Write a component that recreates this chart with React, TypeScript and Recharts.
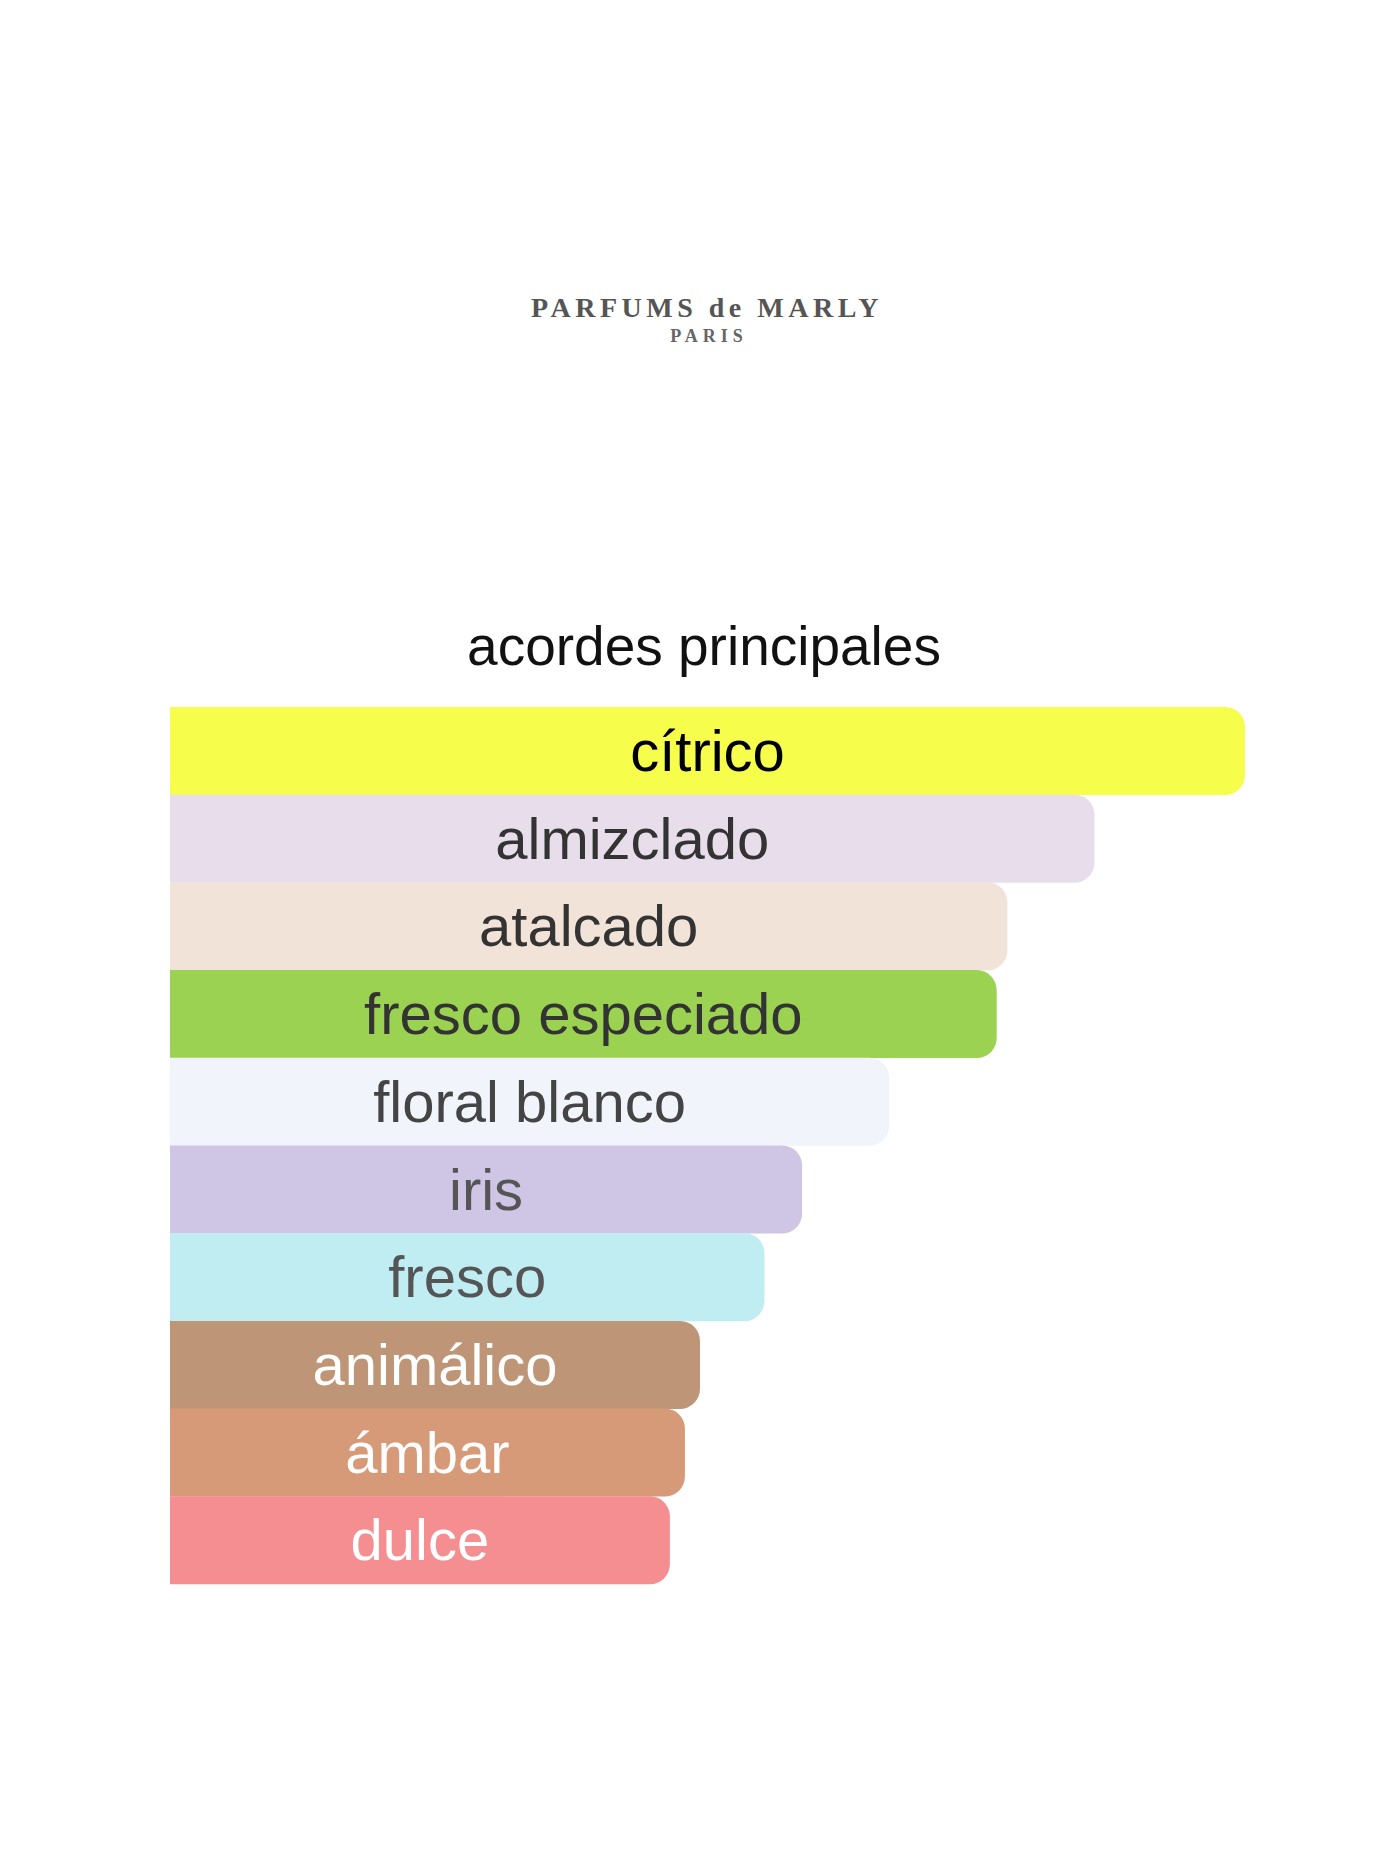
import { BarChart, Bar, XAxis, YAxis, Cell, LabelList } from "recharts";

// main accords, top to bottom
const ACCORDS = [
  "cítrico",
  "almizclado",
  "atalcado",
  "fresco especiado",
  "floral blanco",
  "iris",
  "fresco",
  "animálico",
  "ámbar",
  "dulce",
];

// relative strength (cítrico = 100)
const STRENGTH = [100, 86, 77.9, 76.9, 66.9, 58.8, 55.3, 49.3, 47.9, 46.5];

const BAR_COLORS = [
  "#f7fd4b",
  "#e8deeb",
  "#f1e3d7",
  "#9bd251",
  "#f1f4fb",
  "#cfc5e5",
  "#c0edf2",
  "#be9677",
  "#d69a78",
  "#f58e91",
];

const TEXT_COLORS = [
  "#000000",
  "#333333",
  "#333333",
  "#333333",
  "#444444",
  "#555555",
  "#555555",
  "#ffffff",
  "#ffffff",
  "#ffffff",
];

const data = ACCORDS.map((name, i) => ({ name, value: STRENGTH[i] }));

const W = 1400;
const H = 1861;

function AccordLabel(props: any) {
  const { x, y, width, height, value, index } = props;
  return (
    <text
      x={x + width / 2}
      y={y + height / 2 + 20}
      textAnchor="middle"
      fontFamily="'Liberation Sans', Arial, sans-serif"
      fontSize={58}
      fill={TEXT_COLORS[index]}
    >
      {value}
    </text>
  );
}

export default function App() {
  return (
    <div
      style={{
        position: "absolute",
        left: 0,
        top: 0,
        width: W,
        height: H,
        background: "#ffffff",
      }}
    >
      <svg
        width={W}
        height={H}
        style={{ position: "absolute", left: 0, top: 0 }}
      >
        <text
          x={707}
          y={317}
          textAnchor="middle"
          fontFamily="'Liberation Serif', 'DejaVu Serif', serif"
          fontWeight="bold"
          fontSize={28}
          letterSpacing={4.5}
          fill="#555555"
        >
          PARFUMS de MARLY
        </text>
        <text
          x={709}
          y={342}
          textAnchor="middle"
          fontFamily="'Liberation Serif', 'DejaVu Serif', serif"
          fontWeight="bold"
          fontSize={18}
          letterSpacing={5}
          fill="#666666"
        >
          PARIS
        </text>
        <text
          x={704}
          y={665}
          textAnchor="middle"
          fontFamily="'Liberation Sans', Arial, sans-serif"
          fontSize={55}
          fill="#111111"
        >
          acordes principales
        </text>
      </svg>
      <div style={{ position: "absolute", left: 0, top: 0 }}>
        <BarChart
          width={W}
          height={H}
          data={data}
          layout="vertical"
          margin={{ top: 707, right: 155, bottom: 277, left: 170 }}
          barCategoryGap={0}
        >
          <XAxis type="number" domain={[0, 100]} hide />
          <YAxis type="category" dataKey="name" hide width={0} />
          <Bar
            dataKey="value"
            radius={[0, 20, 20, 0]}
            isAnimationActive={false}
          >
            {data.map((d, i) => (
              <Cell key={d.name} fill={BAR_COLORS[i]} />
            ))}
            <LabelList dataKey="name" content={AccordLabel} />
          </Bar>
        </BarChart>
      </div>
    </div>
  );
}
